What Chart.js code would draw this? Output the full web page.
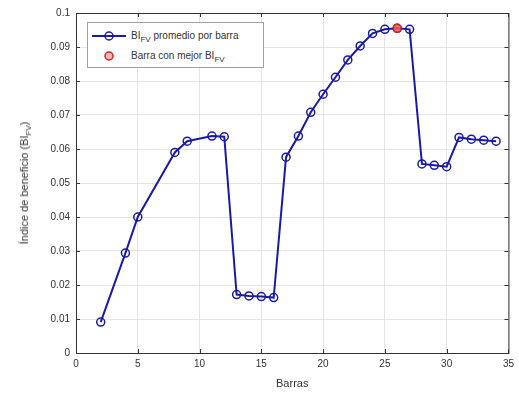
<!DOCTYPE html>
<html lang="es">
<head>
<meta charset="UTF-8">
<title>Índice de beneficio por barra</title>
<script src="https://cdn.jsdelivr.net/npm/chart.js"></script>
<style>
    html, body { margin: 0; padding: 0; background: #fff; }
    .wrap { position: relative; width: 519px; height: 394px; font-family: "Liberation Sans", Arial, sans-serif; }
    canvas { position: absolute; left: 0; top: 0; }
    .legend {
        position: absolute; left: 87px; top: 22px; width: 177px; height: 46px;
        background: #fff; border: 1px solid #a0a0a0; box-sizing: border-box;
        font-size: 10px; color: #333;
    }
    .legend .row { position: absolute; left: 0; height: 16px; line-height: 16px; white-space: nowrap; }
    .legend .txt { position: absolute; left: 43px; }
    .legend svg { position: absolute; left: 4px; top: 0; }
    .ytitle {
        position: absolute; left: 24px; top: 183px; transform: translate(-50%, -50%) rotate(-90deg);
        font-size: 11px; color: #333; white-space: nowrap;
    }
    sub { font-size: 8px; vertical-align: -3px; line-height: 0; }
</style>
</head>
<body>
<div class="wrap">
    <canvas id="chart" width="519" height="394"></canvas>
    <div class="ytitle">Índice de beneficio (BI<sub>FV</sub>)</div>
    <div class="legend">
        <div class="row" style="top:5px">
            <svg width="36" height="16"><line x1="0" y1="8" x2="34" y2="8" stroke="#1a1aa8" stroke-width="2"/><circle cx="17" cy="8" r="4" fill="none" stroke="#1a1aa8" stroke-width="1.5"/></svg>
            <span class="txt">BI<sub>FV</sub> promedio por barra</span>
        </div>
        <div class="row" style="top:25px">
            <svg width="36" height="16"><circle cx="17" cy="8" r="4" fill="#f2b8b8" stroke="#d92020" stroke-width="1.5"/></svg>
            <span class="txt">Barra con mejor BI<sub>FV</sub></span>
        </div>
    </div>
</div>
<script>
    // Barras evaluadas y BI_FV promedio
    const barras = [2, 4, 5, 8, 9, 11, 12, 13, 14, 15, 16, 17, 18, 19, 20, 21, 22, 23, 24, 25, 26, 27, 28, 29, 30, 31, 32, 33, 34];
    const biPromedio = [0.0091, 0.0294, 0.0400, 0.0590, 0.0623, 0.0638, 0.0636, 0.0172, 0.0168, 0.0166, 0.0163, 0.0576, 0.0638, 0.0708, 0.0761, 0.0811, 0.0862, 0.0903, 0.0940, 0.0952, 0.0955, 0.0952, 0.0556, 0.0552, 0.0548, 0.0634, 0.0629, 0.0626, 0.0623];
    const mejorBarra = [26];
    const mejorBI = [0.0955];
    const xTicks = [0, 5, 10, 15, 20, 25, 30, 35];
    const yTicks = [0, 0.01, 0.02, 0.03, 0.04, 0.05, 0.06, 0.07, 0.08, 0.09, 0.1];

    const blue = '#1a1aa8';
    const axisColor = '#333333';

    // box around the plot area (MATLAB style)
    const boxPlugin = {
        id: 'box',
        afterDraw(chart) {
            const a = chart.chartArea, ctx = chart.ctx;
            ctx.save();
            ctx.strokeStyle = axisColor;
            ctx.lineWidth = 1;
            ctx.strokeRect(a.left + 0.5, a.top + 0.5, a.right - a.left, a.bottom - a.top);
            // inner tick marks
            const xs = chart.scales.x, ys = chart.scales.y;
            ctx.beginPath();
            xTicks.forEach(v => {
                const px = Math.round(xs.getPixelForValue(v)) + 0.5;
                ctx.moveTo(px, a.bottom); ctx.lineTo(px, a.bottom - 4);
                ctx.moveTo(px, a.top); ctx.lineTo(px, a.top + 4);
            });
            yTicks.forEach(v => {
                const py = Math.round(ys.getPixelForValue(v)) + 0.5;
                ctx.moveTo(a.left, py); ctx.lineTo(a.left + 4, py);
                ctx.moveTo(a.right, py); ctx.lineTo(a.right - 4, py);
            });
            ctx.stroke();
            ctx.restore();
        }
    };

    new Chart(document.getElementById('chart'), {
        type: 'line',
        data: {
            datasets: [{
                label: 'Barra con mejor BI_FV',
                data: mejorBarra.map((x, i) => ({ x, y: mejorBI[i] })),
                showLine: false,
                pointRadius: 4,
                pointBorderWidth: 1.5,
                pointBorderColor: '#d92020',
                pointBackgroundColor: 'rgba(230, 90, 90, 0.85)',
                order: 0
            }, {
                label: 'BI_FV promedio por barra',
                data: barras.map((x, i) => ({ x, y: biPromedio[i] })),
                borderColor: blue,
                borderWidth: 2,
                pointRadius: 4,
                pointBorderWidth: 1.5,
                pointBorderColor: blue,
                pointBackgroundColor: 'rgba(0,0,0,0)',
                tension: 0,
                order: 1
            }]
        },
        options: {
            responsive: false,
            animation: false,
            layout: { padding: { top: 13, right: 10, left: 0, bottom: 0 } },
            plugins: { legend: { display: false }, tooltip: { enabled: false } },
            scales: {
                x: {
                    type: 'linear', min: 0, max: 35,
                    afterBuildTicks: s => { s.ticks = xTicks.map(v => ({ value: v })); },
                    afterFit: s => { s.height = 41; },
                    grid: { color: '#e4e4e4', drawTicks: false },
                    border: { display: false },
                    ticks: { color: axisColor, font: { family: 'Liberation Sans', size: 10 }, padding: 5, maxRotation: 0 },
                    title: { display: true, text: 'Barras', color: axisColor, font: { family: 'Liberation Sans', size: 11 }, padding: { top: 2, bottom: 3 } }
                },
                y: {
                    min: 0, max: 0.1,
                    afterBuildTicks: s => { s.ticks = yTicks.map(v => ({ value: v })); },
                    afterFit: s => { s.width = 76; },
                    grid: { color: '#e4e4e4', drawTicks: false },
                    border: { display: false },
                    ticks: {
                        color: axisColor, font: { family: 'Liberation Sans', size: 10 }, padding: 6,
                        callback: v => String(parseFloat(v.toFixed(2)))
                    }
                }
            }
        },
        plugins: [boxPlugin]
    });
</script>
</body>
</html>
